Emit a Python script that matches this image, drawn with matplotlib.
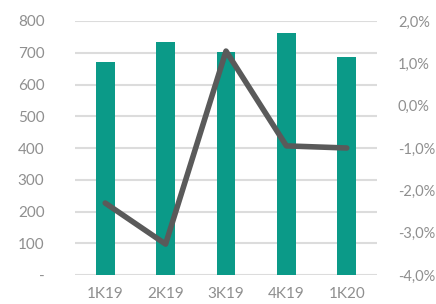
import numpy as np
import matplotlib.pyplot as plt
from matplotlib.ticker import FuncFormatter

# dados
kvartaler = ["1K19", "2K19", "3K19", "4K19", "1K20"]
volum = [671, 734, 702, 762, 687]
vekst = [-2.3, -3.27, 1.29, -0.95, -1.0]

plt.rcParams['font.family'] = ['Lato', 'DejaVu Sans']
tekstfarge = "#8f8f8f"

fig = plt.figure(figsize=(4.36, 3.04), dpi=100)
ax = fig.add_axes([75/436, 29/304, 302/436, 254/304])
x = np.arange(len(kvartaler))

ax.bar(x, volum, width=0.31, color="#0b9a88", zorder=2)
ax.set_ylim(0, 800)
ax.set_yticks(range(0, 801, 100))
ax.yaxis.set_major_formatter(FuncFormatter(lambda v, p: "-" if v == 0 else f"{int(v)}"))
ax.set_xlim(-0.5, 4.5)
ax.set_xticks(x)
ax.set_xticklabels(kvartaler)
ax.grid(axis="y", color="#dcdcdc", linewidth=1.5, zorder=0)
ax.set_axisbelow(True)
for s in ax.spines.values():
    s.set_visible(False)
ax.tick_params(axis="both", length=0, labelsize=11, colors=tekstfarge)
ax.tick_params(axis="y", pad=22)
ax.tick_params(axis="x", pad=9)

ax2 = ax.twinx()
ax2.plot(x, vekst, color="#5a5a5a", linewidth=4, solid_capstyle="round", solid_joinstyle="round", zorder=3)
ax2.set_ylim(-4, 2)
ax2.set_yticks(range(-4, 3))
ax2.yaxis.set_major_formatter(FuncFormatter(lambda v, p: f"{v:.1f}%".replace(".", ",")))
for s in ax2.spines.values():
    s.set_visible(False)
ax2.tick_params(axis="y", length=0, labelsize=10.5, colors=tekstfarge, pad=15)

fig.savefig("out.png", dpi=100)
